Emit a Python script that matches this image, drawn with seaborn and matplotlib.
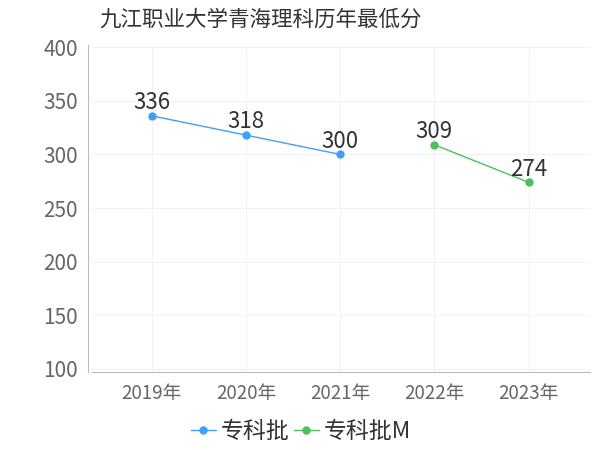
import pandas as pd
import matplotlib
matplotlib.use("Agg")
import matplotlib.pyplot as plt
import seaborn as sns

# data
years = ["2019年", "2020年", "2021年", "2022年", "2023年"]
batch_a_years = ["2019年", "2020年", "2021年"]
batch_a_scores = [336, 318, 300]
batch_b_years = ["2022年", "2023年"]
batch_b_scores = [309, 274]
series_names = ["专科批", "专科批M"]
yticks = [100, 150, 200, 250, 300, 350, 400]

sns.set_style("white")
plt.rcParams['font.family'] = ['Noto Sans CJK SC', 'DejaVu Sans']

df = pd.concat([
    pd.DataFrame({"year": batch_a_years, "score": batch_a_scores, "batch": series_names[0]}),
    pd.DataFrame({"year": batch_b_years, "score": batch_b_scores, "batch": series_names[1]}),
])
df["x"] = df["year"].map({y: i for i, y in enumerate(years)})

fig = plt.figure(figsize=(6, 4.5), dpi=100)
ax = fig.add_axes([0.153, 0.173, 0.83, 0.727])

palette = {"专科批": "#3ea0f6", "专科批M": "#4dbf5c"}
sns.lineplot(data=df, x="x", y="score", hue="batch", palette=palette,
             marker="o", markersize=6, markeredgewidth=0, linewidth=1,
             ax=ax, legend=True)

# value labels
for _, row in df.iterrows():
    ax.text(row["x"], row["score"] + 1.5, str(row["score"]), ha="center", va="bottom",
            fontsize=16, color="#333333")

ax.set_xlim(-0.635, 4.65)
ax.set_ylim(97, 402)
ax.set_xticks(range(len(years)))
ax.set_xticklabels(years)
ax.set_yticks(yticks)
ax.tick_params(axis="both", colors="#666666", length=4, width=0.8)
ax.tick_params(axis="x", labelsize=13.5, pad=4)
ax.tick_params(axis="y", labelsize=15, pad=3)
ax.set_xlabel("")
ax.set_ylabel("")

ax.grid(True, color="#f2f2f2", linewidth=0.8)
for side in ["top", "right"]:
    ax.spines[side].set_visible(False)
ax.spines["left"].set_color("#bbbbbb")
ax.spines["bottom"].set_color("#bbbbbb")
ax.spines["left"].set_position(("outward", 3))

fig.suptitle("九江职业大学青海理科历年最低分", x=0.435, y=0.98, fontsize=15.5, color="#333333")

handles, labels = ax.get_legend_handles_labels()
leg = ax.legend(handles, labels, loc="center", bbox_to_anchor=(0.42, -0.18),
                ncol=2, frameon=False, fontsize=16.5, handlelength=1.1,
                handletextpad=0.2, columnspacing=0.2, labelcolor="#333333")

fig.savefig("out.png", dpi=100)
